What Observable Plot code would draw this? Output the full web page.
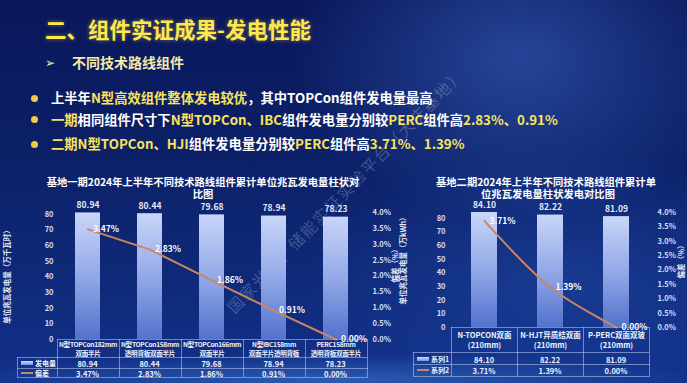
<!DOCTYPE html>
<html><head><meta charset="utf-8">
<script src="https://cdn.jsdelivr.net/npm/d3@7"></script>
<script src="https://cdn.jsdelivr.net/npm/@observablehq/plot@0.6"></script>
<style>
html,body{margin:0;padding:0;background:#0b1b5c;}
#slide{position:relative;width:687px;height:383px;overflow:hidden;font-family:"Noto Sans CJK SC","Noto Sans",sans-serif;
background:
 radial-gradient(ellipse 230px 170px at 520px 55px, rgba(70,120,220,0.45), rgba(70,120,220,0) 100%),
 radial-gradient(ellipse 260px 130px at 560px 280px, rgba(40,90,190,0.35), rgba(40,90,190,0) 100%),
 radial-gradient(ellipse 380px 26px at 330px 380px, rgba(90,170,255,0.35), rgba(90,170,255,0) 100%),
 linear-gradient(180deg,#0a175a 0%,#0c2068 40%,#0f2a7a 75%,#12318a 100%);}
.a{position:absolute;white-space:nowrap;}
</style></head><body><div id="slide"></div>
<script>
// ---------- data ----------
const titleText = "二、组件实证成果-发电性能";
const subText = "不同技术路线组件";
const bullet1 = [["上半年",0],["N型高效组件整体发电较优",1],["，其中TOPCon组件发电量最高",0]];
const bullet2 = [["一期",1],["相同组件尺寸下",0],["N型TOPCon、IBC",1],["组件发电量分别较",0],["PERC",1],["组件高",0],["2.83%、0.91%",1]];
const bullet3 = [["二期N型TOPCon、HJI",1],["组件发电量分别较",0],["PERC",1],["组件高",0],["3.71%、1.39%",1]];
const watermark = "国家光伏、储能实证实验平台（大庆基地）";

const title1 = ["基地一期2024年上半年不同技术路线组件累计单位兆瓦发电量柱状对", "比图"];
const cats1 = ["N型TOPCon182mm", "N型TOPCon158mm", "N型TOPCon166mm", "N型IBC158mm", "PERC158mm"];
const cats1b = ["双面半片", "透明背板双面半片", "双面半片", "双面半片透明背板", "透明背板双面半片"];
const gen1 = [80.94, 80.44, 79.68, 78.94, 78.23];
const dev1 = [3.47, 2.83, 1.86, 0.91, 0.00];
const rowNames1 = ["发电量", "偏差"];
const yTitle1 = "单位兆瓦发电量（万千瓦时）";

const title2 = ["基地二期2024年上半年不同技术路线组件累计单", "位兆瓦发电量柱状发电对比图"];
const cats2 = ["N-TOPCON双面", "N-HJT异质结双面", "P-PERC双面双玻"];
const cats2b = ["(210mm)", "(210mm)", "(210mm)"];
const gen2 = [84.10, 82.22, 81.09];
const dev2 = [3.71, 1.39, 0.00];
const rowNames2 = ["系列1", "系列2"];
const yTitle2 = "单位兆瓦发电量（万kWh）";

const rightTitle = "偏差（%）";
const yTicks = [0, 10, 20, 30, 40, 50, 60, 70, 80];
const pctTicks = [0, 0.5, 1.0, 1.5, 2.0, 2.5, 3.0, 3.5, 4.0];

// ---------- helpers ----------
const FONT = '"Noto Sans CJK SC","Noto Sans",sans-serif';
const YEL = "#f7e45c";
const BORDER = "rgba(190,205,240,0.55)";
const LINEC = "#c98660";
const slide = document.getElementById("slide");
function el(css, text) {
  const e = document.createElement("div");
  e.className = "a";
  Object.assign(e.style, css);
  if (text != null) e.textContent = text;
  slide.appendChild(e);
  return e;
}
function ctext(text, cx, cy, css, rot) {
  return el(Object.assign({left: cx + "px", top: cy + "px",
    transform: "translate(-50%,-50%)" + (rot ? ` rotate(${rot}deg)` : "")}, css), text);
}

// ---------- header ----------
el({left: "345px", top: "190px", transform: "translate(-50%,-50%) rotate(-46deg)", fontSize: "16px",
  color: "rgba(255,255,255,0.22)", letterSpacing: "1.5px"}, watermark);
el({left: "45px", top: "15px", fontSize: "21.5px", fontWeight: "bold", color: "#ffe84a", lineHeight: "28px",
  textShadow: "0 0 4px rgba(255,225,80,0.45)"}, titleText);
el({left: "45px", top: "53px", fontSize: "12px", color: "#f3e9b0", lineHeight: "18px"}, "➢");
el({left: "72px", top: "53px", fontSize: "14px", fontWeight: "bold", color: "#f5e9a8", lineHeight: "18px"}, subText);
[[bullet1, 98.3], [bullet2, 119.8], [bullet3, 144.3]].forEach(([segs, cy]) => {
  el({left: "31px", top: (cy - 3.5) + "px", width: "7px", height: "7px", borderRadius: "50%", background: "#f2c94a"});
  const line = el({left: "51px", top: (cy - 9) + "px", fontSize: "13.3px", fontWeight: "bold", lineHeight: "18px"});
  segs.forEach(([t, y]) => {
    const s = document.createElement("span");
    s.textContent = t;
    s.style.color = y ? YEL : "#ffffff";
    line.appendChild(s);
  });
});

// ---------- charts ----------
function drawChart(cfg) {
  const {cats, gen, dev, left, top, width, height, mL, mR, mT, mB, yMax, curve, gid} = cfg;
  const k = yMax / 4;
  const data = cats.map((c, i) => ({cat: c, gen: gen[i], dev: dev[i]}));
  const svg = Plot.plot({
    width, height, marginLeft: mL, marginRight: mR, marginTop: mT, marginBottom: mB,
    style: {background: "transparent", color: "#d6def3", fontFamily: FONT, fontSize: "7.5px", fontWeight: "bold", overflow: "visible"},
    x: {domain: cats, paddingInner: 0.6, paddingOuter: 0.3, axis: null},
    y: {domain: [0, yMax], axis: null},
    marks: [
      Plot.axisY({ticks: yTicks, anchor: "left", tickSize: 0, tickPadding: cfg.lPad, label: null, tickFormat: d => String(d)}),
      Plot.axisY({ticks: pctTicks.map(p => p * k), anchor: "right", tickSize: 0, tickPadding: cfg.rPad, label: null,
        tickFormat: d => (d / k).toFixed(1) + "%"}),
      Plot.barY(data, {x: "cat", y: "gen", fill: `url(#${gid})`}),
      Plot.text(data, {x: "cat", y: "gen", text: d => d.gen.toFixed(2), dy: -7.5, fill: "#e6ebf7", fontSize: 8.5}),
      Plot.line(data, {x: "cat", y: d => d.dev * k, stroke: LINEC, strokeWidth: 2, curve}),
      Plot.text(data, {x: "cat", y: d => d.dev * k, text: d => d.dev.toFixed(2) + "%", textAnchor: "start",
        dx: cfg.labelDx, fill: "#ffffff", fontSize: 8.5})
    ]
  });
  const defs = document.createElementNS("http://www.w3.org/2000/svg", "defs");
  defs.innerHTML = `<linearGradient id="${gid}" x1="0" y1="0" x2="0" y2="1">
    <stop offset="0" stop-color="#c9d5f8"/><stop offset="0.5" stop-color="#93a9e8"/><stop offset="1" stop-color="#5272cc"/></linearGradient>`;
  svg.insertBefore(defs, svg.firstChild);
  Object.assign(svg.style, {position: "absolute", left: left + "px", top: top + "px", maxWidth: "none"});
  slide.appendChild(svg);
  return svg;
}

function drawTable(svg, cfg) {
  const xs = svg.scale("x");
  const step = xs.step;
  const cols = cfg.cats.map(c => cfg.left + xs.apply(c) + xs.bandwidth / 2 - step / 2);
  const x1 = cols[cols.length - 1] + step;
  const {catTop, catBot, rowBots, legLeft} = cfg;
  const bottom = rowBots[rowBots.length - 1];
  const line = (x, y, w, h) => el({left: x + "px", top: y + "px", width: w + "px", height: h + "px", background: BORDER});
  line(cols[0], catTop, x1 - cols[0], 1);
  line(legLeft, catBot, x1 - legLeft, 1);
  rowBots.forEach(y => line(legLeft, y, x1 - legLeft + 1, 1));
  cols.forEach(x => line(x, catTop, 1, bottom - catTop));
  line(x1, catTop, 1, bottom - catTop);
  line(legLeft, catBot, 1, bottom - catBot);
  cfg.cats.forEach((c, i) => {
    el({left: cols[i] + 1 + "px", top: catTop + 1 + "px", width: (step - 1) + "px", height: (catBot - catTop - 1) + "px",
      overflow: "hidden", textAlign: "center", whiteSpace: "pre", fontSize: cfg.catFS + "px", fontWeight: "bold",
      letterSpacing: cfg.catLS + "px",
      lineHeight: cfg.catLH + "px", paddingTop: cfg.catPad + "px", boxSizing: "border-box", color: "#eef2fb"},
      c + "\n" + cfg.catsb[i]);
  });
  cfg.rows.forEach((r, ri) => {
    const yT = ri === 0 ? catBot : rowBots[ri - 1];
    const cy = (yT + rowBots[ri]) / 2 + 0.5;
    if (ri === 0) el({left: legLeft + 4 + "px", top: cy - 2 + "px", width: "12px", height: "4px",
      background: "linear-gradient(#d0dbfa,#7490df)"});
    else el({left: legLeft + 4 + "px", top: cy - 1 + "px", width: "12px", height: "2px", background: LINEC});
    el({left: legLeft + 18 + "px", top: cy - 5 + "px", fontSize: "7px", fontWeight: "bold", lineHeight: "10px", color: "#eef2fb"}, r.name);
    r.values.forEach((v, i) => ctext(v, cols[i] + step / 2, cy, {fontSize: "7.5px", fontWeight: "bold", color: "#eef2fb"}));
  });
}

// chart 1
const svg1 = drawChart({cats: cats1, gen: gen1, dev: dev1, left: 0, top: 200, width: 400, height: 140,
  mL: 55, mR: 32, mT: 12, mB: 1, yMax: 81.2, curve: "linear", gid: "bar1", lPad: 2, rPad: 4, labelDx: 5});
title1.forEach((t, i) => ctext(t, 203, 181 + i * 12, {fontSize: "10.3px", fontWeight: "bold", color: "#ffffff", lineHeight: "11px"}));
ctext(yTitle1, 6, 275, {fontSize: "7.5px", fontWeight: "bold", color: "#e3e8f6"}, -90);
ctext(rightTitle, 394, 264, {fontSize: "7.5px", fontWeight: "bold", color: "#e3e8f6"}, -90);
drawTable(svg1, {cats: cats1, catsb: cats1b, left: 0, catTop: 339, catBot: 357, rowBots: [367.5, 377], legLeft: 17,
  catLH: 8.5, catPad: 0, catFS: 6.6, catLS: -0.3,
  rows: [{name: rowNames1[0], values: gen1.map(v => v.toFixed(2))}, {name: rowNames1[1], values: dev1.map(v => v.toFixed(2) + "%")}]});

// chart 2
const svg2 = drawChart({cats: cats2, gen: gen2, dev: dev2, left: 400, top: 200, width: 287, height: 128,
  mL: 50, mR: 37, mT: 12, mB: 1, yMax: 84.1, curve: "catmull-rom", gid: "bar2", lPad: 5, rPad: 7, labelDx: 5});
title2.forEach((t, i) => ctext(t, 546 + i * 2, 181 + i * 12, {fontSize: "10.3px", fontWeight: "bold", color: "#ffffff", lineHeight: "11px"}));
ctext(yTitle2, 402, 259, {fontSize: "7.5px", fontWeight: "bold", color: "#e3e8f6"}, -90);
ctext(rightTitle, 680, 260, {fontSize: "7.5px", fontWeight: "bold", color: "#e3e8f6"}, -90);
drawTable(svg2, {cats: cats2, catsb: cats2b, left: 400, catTop: 327, catBot: 352, rowBots: [364, 375.5], legLeft: 413,
  catLH: 9.5, catPad: 2, catFS: 7.5, catLS: 0,
  rows: [{name: rowNames2[0], values: gen2.map(v => v.toFixed(2))}, {name: rowNames2[1], values: dev2.map(v => v.toFixed(2) + "%")}]});
</script></body></html>
